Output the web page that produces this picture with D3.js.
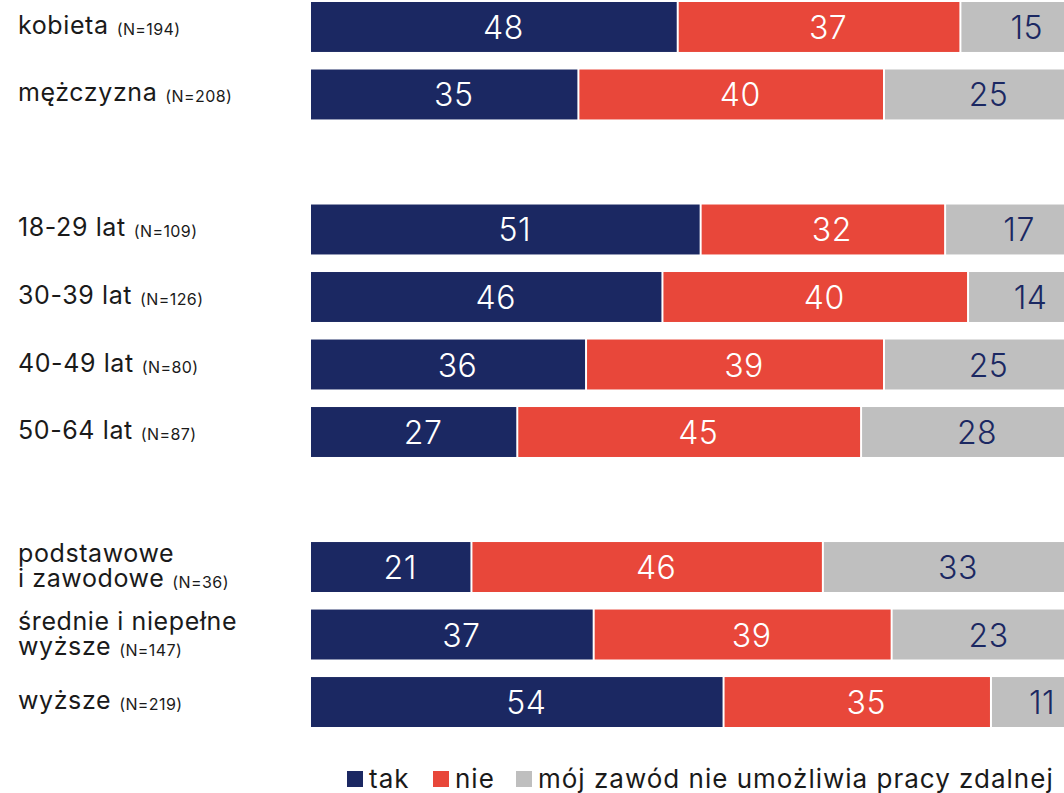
<!DOCTYPE html>
<html>
<head>
<meta charset="utf-8">
<script src="https://cdn.jsdelivr.net/npm/d3@7"></script>
<style>
  body { margin: 0; background: #fff; }
  svg { display: block; font-family: Inter, 'Noto Sans', sans-serif; }
</style>
</head>
<body>
<div id="chart"></div>
<script>
'use strict';

// rows, with empty slots between the groups
const rowIds = ['k', 'm', 'gap1', 'a1', 'a2', 'a3', 'a4', 'gap2', 'e1', 'e2', 'e3'];
const rowLabels = [
    ['kobieta'], ['mężczyzna'], null,
    ['18-29 lat'], ['30-39 lat'], ['40-49 lat'], ['50-64 lat'], null,
    ['podstawowe', 'i zawodowe'], ['średnie i niepełne', 'wyższe'], ['wyższe']
];
const rowN = ['N=194', 'N=208', null, 'N=109', 'N=126', 'N=80', 'N=87', null, 'N=36', 'N=147', 'N=219'];

const seriesNames = ['tak', 'nie', 'mój zawód nie umożliwia pracy zdalnej'];
const takValues = [48, 35, null, 51, 46, 36, 27, null, 21, 37, 54];
const nieValues = [37, 40, null, 32, 40, 39, 45, null, 46, 39, 35];
const brakValues = [15, 25, null, 17, 14, 25, 28, null, 33, 23, 11];

const colours = ['#1b2862', '#e8473a', '#bfbfbf'];
const labelColours = ['#ffffff', '#ffffff', '#1b2862'];

const width = 1064;
const height = 793;

const svg = d3.select('#chart')
    .append('svg')
    .attr('width', width)
    .attr('height', height);

const xScale = d3.scaleLinear()
    .domain([0, 100])
    .range([311, 1075]);

const yScale = d3.scaleBand()
    .domain(rowIds)
    .range([2, 727])
    .paddingInner(0.26)
    .paddingOuter(0)
    .align(0);

const rows = rowIds.map(function (id, i) {
    return {
        id: id,
        label: rowLabels[i],
        n: rowN[i],
        values: [takValues[i], nieValues[i], brakValues[i]]
    };
}).filter(function (d) {
    return d.label !== null;
});

const segments = [];
rows.forEach(function (row) {
    let start = 0;
    row.values.forEach(function (v, j) {
        segments.push({ id: row.id, series: j, start: start, end: start + v, value: v });
        start += v;
    });
});

const bars = svg.append('g');

bars.selectAll('rect')
    .data(segments)
    .join('rect')
    .attr('x', function (d) {
        return xScale(d.start) + (d.series > 0 ? 1 : 0);
    })
    .attr('y', function (d) {
        return yScale(d.id);
    })
    .attr('width', function (d) {
        return xScale(d.end) - xScale(d.start) - (d.series > 0 ? 1 : 0) - (d.series < 2 ? 1 : 0);
    })
    .attr('height', yScale.bandwidth())
    .attr('fill', function (d) {
        return colours[d.series];
    });

bars.selectAll('text')
    .data(segments)
    .join('text')
    .attr('x', function (d) {
        return (xScale(d.start) + xScale(d.end)) / 2 + 9;
    })
    .attr('y', function (d) {
        return yScale(d.id) + yScale.bandwidth() / 2 + 12;
    })
    .attr('text-anchor', 'middle')
    .attr('font-size', 32)
    .attr('font-weight', 300)
    .attr('letter-spacing', 0.5)
    .attr('fill', function (d) {
        return labelColours[d.series];
    })
    .text(function (d) {
        return d.value;
    });

// category labels on the left, one text per row so wrapped lines stay together
const labels = svg.append('g')
    .selectAll('text')
    .data(rows)
    .join('text')
    .attr('x', 18)
    .attr('y', function (d) {
        const mid = yScale(d.id) + yScale.bandwidth() / 2;
        return d.label.length === 1 ? mid + 7 : mid - 5;
    })
    .attr('font-size', 25)
    .attr('letter-spacing', 0.6)
    .attr('fill', '#1a1a1a');

labels.each(function (d) {
    const t = d3.select(this);
    d.label.forEach(function (line, i) {
        t.append('tspan')
            .attr('x', 18)
            .attr('dy', i === 0 ? 0 : 25)
            .text(line);
    });
    t.append('tspan')
        .attr('font-size', 16)
        .attr('letter-spacing', 0.4)
        .attr('dx', 8)
        .attr('dy', 1)
        .text('(' + d.n + ')');
});

// legend
const legendX = [347, 433, 516];
const legend = svg.append('g')
    .selectAll('g')
    .data(seriesNames)
    .join('g')
    .attr('transform', function (d, i) {
        return `translate(${legendX[i]},771)`;
    });

legend.append('rect')
    .attr('width', 16)
    .attr('height', 16)
    .attr('fill', function (d, i) {
        return colours[i];
    });

legend.append('text')
    .attr('x', 22)
    .attr('y', 17)
    .attr('font-size', 26)
    .attr('letter-spacing', 1)
    .attr('fill', '#1a1a1a')
    .text(function (d) {
        return d;
    });
</script>
</body>
</html>
